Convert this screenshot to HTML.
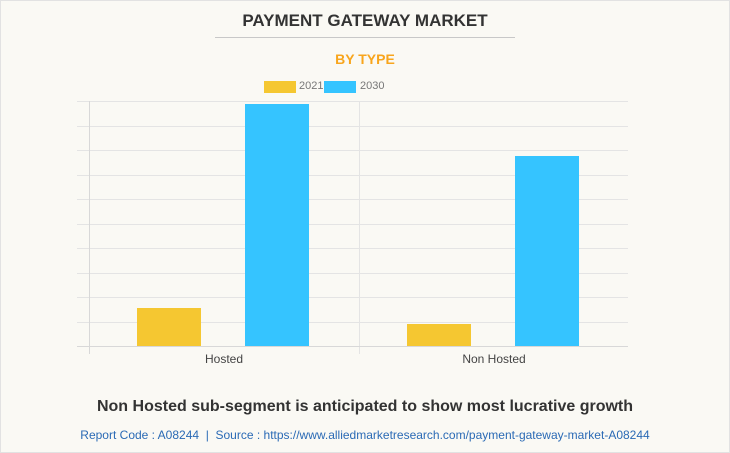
<!DOCTYPE html><html><head><style>
body{margin:0;width:730px;height:453px;background:#faf9f4;font-family:"Liberation Sans",sans-serif;overflow:hidden;position:relative}
.t{position:absolute;left:0;width:730px;text-align:center}
</style></head><body>
<div style="position:absolute;left:0;top:0;width:728px;height:451px;border:1px solid #e2e2e2"></div>
<div class="t" style="top:11px;font-size:17px;font-weight:bold;color:#333">PAYMENT GATEWAY MARKET</div>
<div style="position:absolute;left:215px;top:37px;width:300px;height:1px;background:#c8c8c8"></div>
<div class="t" style="top:51px;font-size:14px;font-weight:bold;color:#f8a51c">BY TYPE</div>
<div style="position:absolute;left:264px;top:81px;width:32px;height:12px;background:#f5c731"></div>
<div style="position:absolute;left:299px;top:80px;font-size:11px;color:#777">2021</div>
<div style="position:absolute;left:324px;top:81px;width:32px;height:12px;background:#35c4ff"></div>
<div style="position:absolute;left:360px;top:80px;font-size:11px;color:#777">2030</div>
<svg style="position:absolute;left:0;top:0" width="730" height="453">
<g stroke="#e4e4e4" stroke-width="1">
<line x1="77" x2="628" y1="101.5" y2="101.5"/><line x1="77" x2="628" y1="126.5" y2="126.5"/><line x1="77" x2="628" y1="150.5" y2="150.5"/><line x1="77" x2="628" y1="175.5" y2="175.5"/><line x1="77" x2="628" y1="199.5" y2="199.5"/><line x1="77" x2="628" y1="224.5" y2="224.5"/><line x1="77" x2="628" y1="248.5" y2="248.5"/><line x1="77" x2="628" y1="273.5" y2="273.5"/><line x1="77" x2="628" y1="297.5" y2="297.5"/><line x1="77" x2="628" y1="322.5" y2="322.5"/>
<line x1="359.5" x2="359.5" y1="101" y2="354"/>
</g>
<line x1="89.5" x2="89.5" y1="101" y2="354" stroke="#d8d8d8"/>
<line x1="77" x2="628" y1="346.5" y2="346.5" stroke="#d8d8d8"/>
<rect x="137" y="308" width="64" height="38" fill="#f5c731"/>
<rect x="245" y="104" width="64" height="242" fill="#35c4ff"/>
<rect x="407" y="324" width="64" height="22" fill="#f5c731"/>
<rect x="515" y="156" width="64" height="190" fill="#35c4ff"/>
</svg>
<div style="position:absolute;left:184px;width:80px;text-align:center;top:352px;font-size:12px;color:#444">Hosted</div>
<div style="position:absolute;left:444px;width:100px;text-align:center;top:352px;font-size:12px;color:#444">Non Hosted</div>
<div class="t" style="top:398px;font-size:16px;font-weight:bold;color:#333">Non Hosted sub-segment is anticipated to show most lucrative growth</div>
<div class="t" style="top:428px;font-size:12px;color:#2a6ab5">Report Code : A08244 &nbsp;| &nbsp;Source : https://www.alliedmarketresearch.com/payment-gateway-market-A08244</div>
</body></html>
